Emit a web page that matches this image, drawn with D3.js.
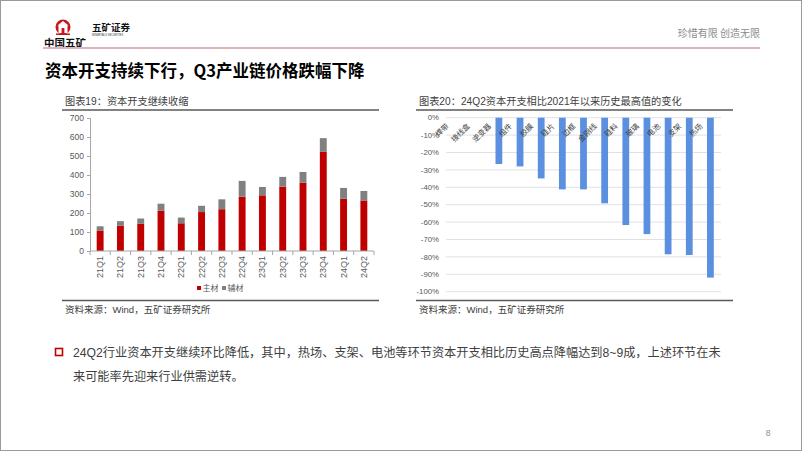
<!DOCTYPE html>
<html lang="zh">
  <head>
    <meta charset="UTF-8" />
    <title>资本开支持续下行</title>
    <script src="https://cdnjs.cloudflare.com/ajax/libs/d3/7.8.5/d3.min.js"></script>
    <style>
      body,
      html {
        margin: 0;
        padding: 0;
        background: #fff;
      }
      svg {
        display: block;
      }
      text {
        font-family: "Liberation Sans", "Noto Sans CJK SC", sans-serif;
      }
      .cjk {
        font-family: "Noto Sans CJK SC", sans-serif;
      }
    </style>
  </head>
  <body>
    <svg width="802" height="451"></svg>
    <script type="text/javascript">
      // 图表19 data
      const quarters = ["21Q1", "21Q2", "21Q3", "21Q4", "22Q1", "22Q2", "22Q3", "22Q4",
        "23Q1", "23Q2", "23Q3", "23Q4", "24Q1", "24Q2"];
      const mainMat = [108, 134, 143, 213, 146, 205, 220, 286, 293, 339, 360, 522, 275, 266];
      const auxMat = [22, 23, 28, 36, 30, 33, 52, 83, 44, 51, 56, 72, 57, 50];
      const leftTicks = [0, 100, 200, 300, 400, 500, 600, 700];

      // 图表20 data
      const segments = ["焊带", "接线盒", "逆变器", "组件", "胶膜", "硅片", "边框",
        "金刚线", "硅料", "玻璃", "电池", "支架", "热场"];
      const changePct = [0, 0, -26.6, -28, -34.9, -41.2, -41.2, -49.2, -61.7, -66.9, -78.5, -78.9, -91.9];
      const rightTicks = [0, -10, -20, -30, -40, -50, -60, -70, -80, -90, -100];

      const svg = d3.select("svg");

      // page frame
      svg.append("rect")
        .attr("x", 0.5).attr("y", 0.5)
        .attr("width", 801).attr("height", 450)
        .attr("fill", "none").attr("stroke", "#9a9a9a");

      // ---- header ----
      const logo = svg.append("g");
      logo.append("circle").attr("cx", 63).attr("cy", 27).attr("r", 7.5).attr("fill", "#c8161d");
      // little white gate inside the emblem
      logo.append("rect").attr("x", 58.5).attr("y", 25).attr("width", 9).attr("height", 8).attr("fill", "#fff");
      logo.append("path").attr("d", "M57.5,25.5 L63,21 L68.5,25.5 Z").attr("fill", "#fff");
      logo.append("rect").attr("x", 61.6).attr("y", 28).attr("width", 2.8).attr("height", 5).attr("fill", "#c8161d");
      logo.append("rect").attr("x", 56).attr("y", 33.5).attr("width", 14).attr("height", 1.5).attr("fill", "#c8161d");
      logo.append("text").attr("class", "cjk")
        .attr("x", 44).attr("y", 46.5)
        .attr("font-size", 10.5).attr("font-weight", "bold").attr("fill", "#111")
        .text("中国五矿");
      logo.append("text").attr("class", "cjk")
        .attr("x", 92).attr("y", 31)
        .attr("font-size", 9.5).attr("font-weight", "bold").attr("fill", "#111")
        .text("五矿证券");
      logo.append("text")
        .attr("x", 92).attr("y", 35.5)
        .attr("font-size", 2.6).attr("fill", "#333")
        .text("MINMETALS SECURITIES");

      svg.append("text").attr("class", "cjk")
        .attr("x", 760).attr("y", 37)
        .attr("text-anchor", "end")
        .attr("font-size", 10).attr("fill", "#8c8c8c")
        .text("珍惜有限  创造无限");

      svg.append("line")
        .attr("x1", 43).attr("x2", 760)
        .attr("y1", 48).attr("y2", 48)
        .attr("stroke", "#dcb4bd").attr("stroke-width", 2);

      svg.append("text").attr("class", "cjk")
        .attr("x", 45).attr("y", 77)
        .attr("font-size", 16.5).attr("font-weight", "bold").attr("fill", "#000")
        .text("资本开支持续下行，Q3产业链价格跌幅下降");

      // chart titles / source lines
      function panelFrame(x0, x1, title) {
        svg.append("text")
          .attr("x", x0 + 3).attr("y", 105)
          .attr("font-size", 10.2).attr("fill", "#404040")
          .text(title);
        svg.append("line")
          .attr("x1", x0).attr("x2", x1)
          .attr("y1", 110).attr("y2", 110)
          .attr("stroke", "#595959").attr("stroke-width", 1.5);
        svg.append("line")
          .attr("x1", x0).attr("x2", x1)
          .attr("y1", 300.5).attr("y2", 300.5)
          .attr("stroke", "#595959").attr("stroke-width", 1.5);
        svg.append("text")
          .attr("x", x0 + 3).attr("y", 313)
          .attr("font-size", 9.5).attr("fill", "#404040")
          .text("资料来源：Wind，五矿证券研究所");
      }
      panelFrame(62, 379, "图表19：资本开支继续收缩");
      panelFrame(416, 733, "图表20：24Q2资本开支相比2021年以来历史最高值的变化");

      // ---- 图表19 stacked bars ----
      const left = svg.append("g");
      const x1 = d3.scaleBand().domain(quarters).range([90, 374]).paddingInner(0.66).paddingOuter(0.33);
      const y1 = d3.scaleLinear().domain([0, 700]).range([251, 118]);

      const rows = quarters.map((q, i) => ({ q: q, main: mainMat[i], aux: auxMat[i] }));
      const stacked = d3.stack().keys(["main", "aux"])(rows);
      const stackColor = { main: "#c00000", aux: "#808080" };

      left.selectAll("g.layer")
        .data(stacked)
        .join("g")
        .attr("class", "layer")
        .attr("fill", (d) => stackColor[d.key])
        .selectAll("rect")
        .data((d) => d)
        .join("rect")
        .attr("x", (d) => x1(d.data.q))
        .attr("width", x1.bandwidth())
        .attr("y", (d) => y1(d[1]))
        .attr("height", (d) => y1(d[0]) - y1(d[1]));

      const yAxisL = left.append("g")
        .attr("transform", "translate(90,0)")
        .call(d3.axisLeft(y1).tickValues(leftTicks).tickSize(3).tickPadding(3));
      yAxisL.select(".domain").attr("stroke", "#a6a6a6");
      yAxisL.selectAll(".tick line").attr("stroke", "#a6a6a6");
      yAxisL.selectAll("text").attr("font-size", 8.5).attr("fill", "#595959");

      // x axis line with ticks between categories
      left.append("line")
        .attr("x1", 90).attr("x2", 374)
        .attr("y1", y1(0)).attr("y2", y1(0))
        .attr("stroke", "#a6a6a6");
      left.selectAll("line.bound")
        .data(d3.range(quarters.length + 1))
        .join("line")
        .attr("class", "bound")
        .attr("x1", (i) => 90 + i * x1.step())
        .attr("x2", (i) => 90 + i * x1.step())
        .attr("y1", y1(0)).attr("y2", y1(0) + 4)
        .attr("stroke", "#a6a6a6");
      left.selectAll("text.qlab")
        .data(quarters)
        .join("text")
        .attr("class", "qlab")
        .attr("transform", (d) => `translate(${x1(d) + x1.bandwidth() / 2 + 3},${y1(0) + 5}) rotate(-90)`)
        .attr("text-anchor", "end")
        .attr("font-size", 9).attr("fill", "#595959")
        .text((d) => d);

      // legend
      const legend = left.append("g").attr("transform", "translate(197,0)");
      legend.append("rect").attr("x", 0).attr("y", 286).attr("width", 4).attr("height", 4).attr("fill", stackColor.main);
      legend.append("text").attr("x", 5.5).attr("y", 291).attr("font-size", 8).attr("fill", "#595959").text("主材");
      legend.append("rect").attr("x", 25).attr("y", 286).attr("width", 4).attr("height", 4).attr("fill", stackColor.aux);
      legend.append("text").attr("x", 30.5).attr("y", 291).attr("font-size", 8).attr("fill", "#595959").text("辅材");

      // ---- 图表20 bars ----
      const right = svg.append("g");
      const x2 = d3.scaleBand().domain(segments).range([446, 721]).paddingInner(0.68).paddingOuter(0.34);
      const y2 = d3.scaleLinear().domain([-100, 0]).range([291.7, 117.7]);

      right.selectAll("line.grid")
        .data(rightTicks)
        .join("line")
        .attr("class", "grid")
        .attr("x1", 446).attr("x2", 721)
        .attr("y1", (d) => y2(d)).attr("y2", (d) => y2(d))
        .attr("stroke", "#d9d9d9").attr("stroke-width", 0.8);

      right.selectAll("text.ylab")
        .data(rightTicks)
        .join("text")
        .attr("class", "ylab")
        .attr("x", 439).attr("y", (d) => y2(d))
        .attr("dy", "0.35em")
        .attr("text-anchor", "end")
        .attr("font-size", 7.8).attr("fill", "#595959")
        .text((d) => d + "%");

      right.selectAll("rect.bar")
        .data(segments)
        .join("rect")
        .attr("class", "bar")
        .attr("x", (d) => x2(d))
        .attr("width", x2.bandwidth())
        .attr("y", y2(0))
        .attr("height", (d, i) => y2(changePct[i]) - y2(0))
        .attr("fill", "#5b8fe0");

      right.selectAll("text.seg")
        .data(segments)
        .join("text")
        .attr("class", "seg")
        .attr("transform", (d) => `translate(${x2(d) - 4},${y2(0) + 9}) rotate(-45)`)
        .attr("text-anchor", "end")
        .attr("font-size", 7.5).attr("fill", "#404040")
        .text((d) => d);

      // ---- bullet text ----
      svg.append("rect")
        .attr("x", 55.5).attr("y", 348.5)
        .attr("width", 7).attr("height", 7)
        .attr("fill", "none").attr("stroke", "#c00000").attr("stroke-width", 1.6);
      svg.append("text")
        .attr("x", 73).attr("y", 357)
        .attr("font-size", 12.2).attr("fill", "#404040")
        .text("24Q2行业资本开支继续环比降低，其中，热场、支架、电池等环节资本开支相比历史高点降幅达到8~9成，上述环节在未");
      svg.append("text")
        .attr("x", 73).attr("y", 381)
        .attr("font-size", 12.2).attr("fill", "#404040")
        .text("来可能率先迎来行业供需逆转。");

      svg.append("text")
        .attr("x", 768).attr("y", 436)
        .attr("text-anchor", "middle")
        .attr("font-size", 8.5).attr("fill", "#8c8c8c")
        .text("8");
    </script>
  </body>
</html>
